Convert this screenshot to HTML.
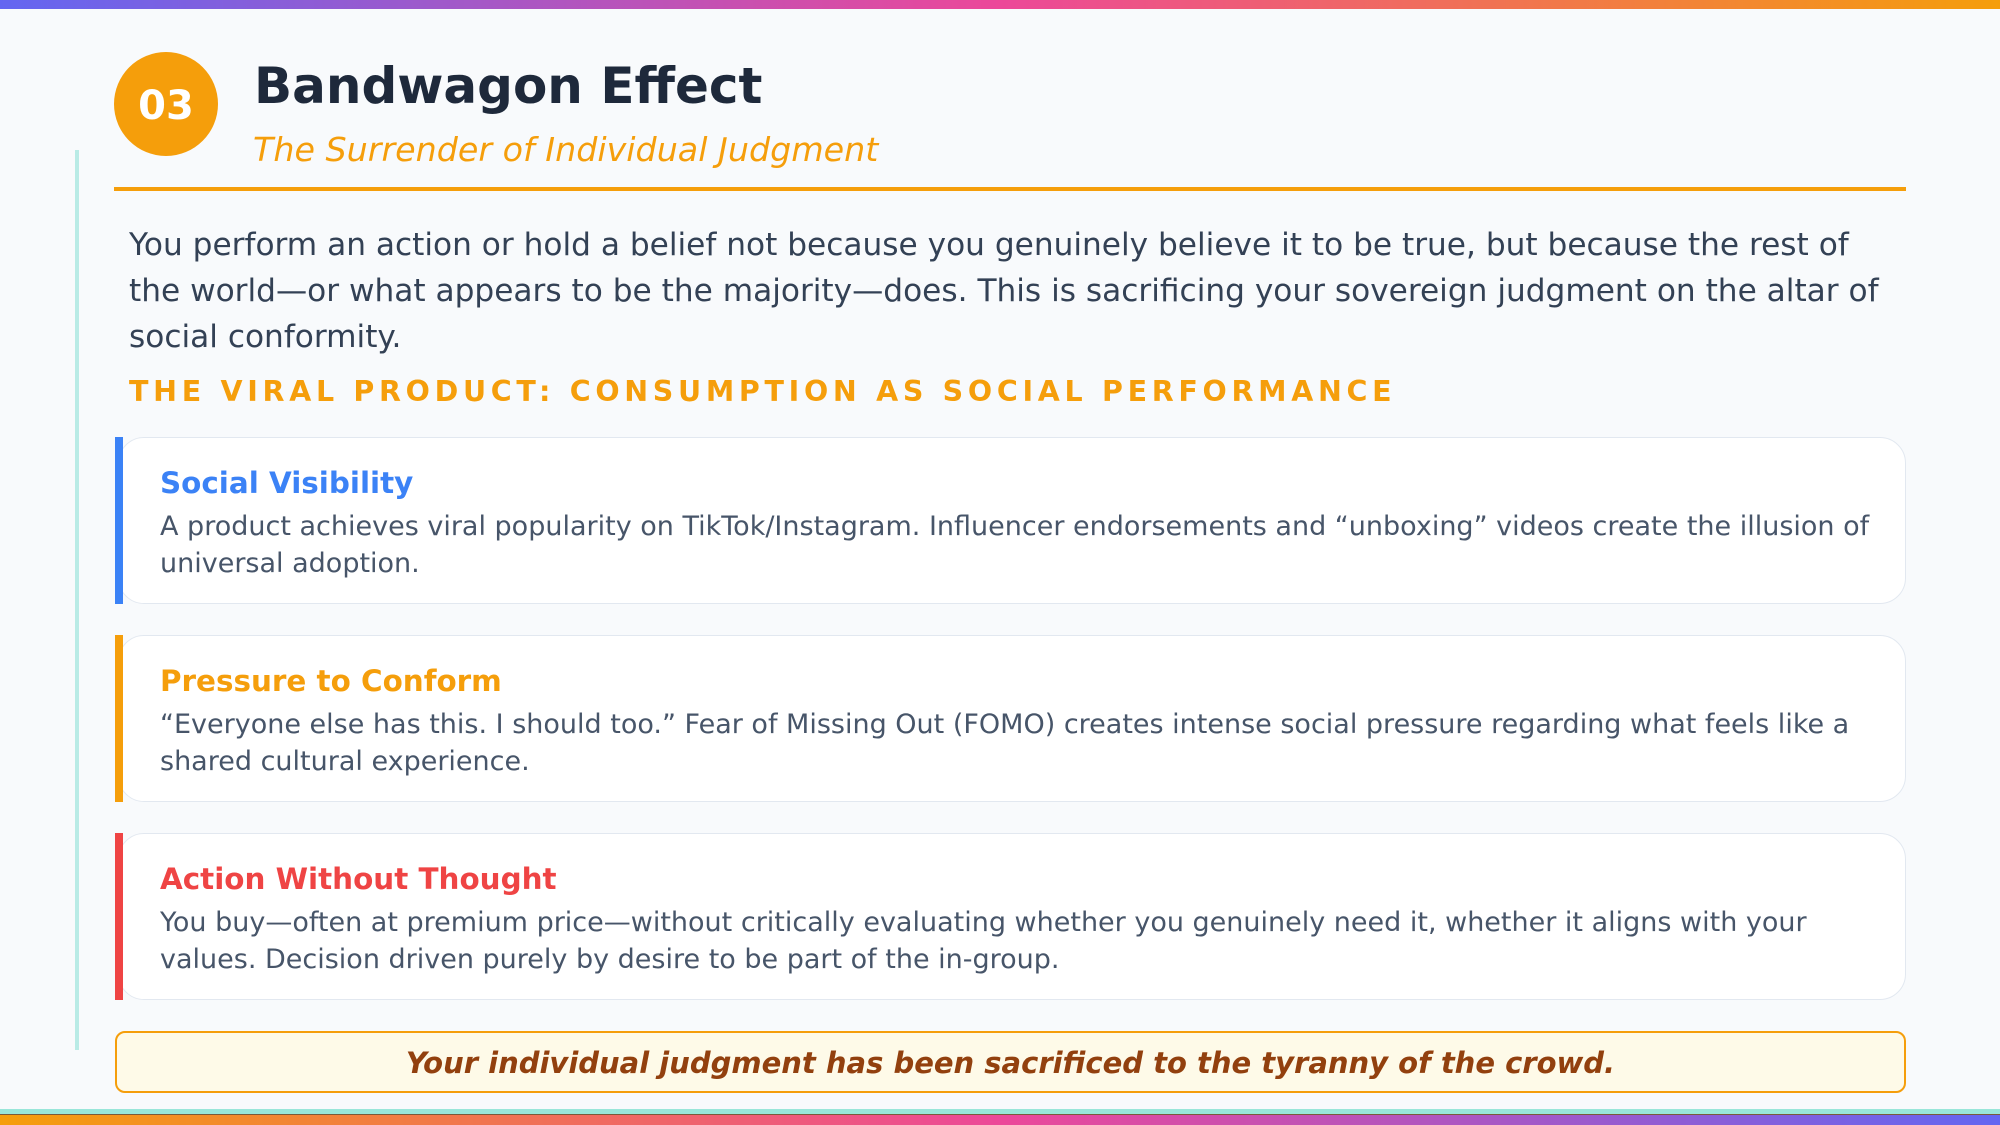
<!DOCTYPE html>
<html><head><meta charset="utf-8"><style>
*{margin:0;padding:0;box-sizing:border-box}
body{width:2000px;height:1125px;background:#f8fafc;font-family:"DejaVu Sans","Liberation Sans",sans-serif;position:relative;overflow:hidden}
.a{position:absolute}
.top{left:0;top:0;width:2000px;height:9px;background:linear-gradient(90deg,#6366f1,#ec4899 50%,#f59e0b)}
.bot{left:0;top:1115px;width:2000px;height:10px;background:linear-gradient(90deg,#f59e0b,#ec4899 50%,#6366f1)}
.teal{left:0;top:1109px;width:2000px;height:5px;background:#99e6d9}
.dk{left:0;top:1114px;width:2000px;height:2px;background:#7a5a3a}
.vl{left:75px;top:150px;width:4px;height:900px;background:#b9ebe6}
.circ{left:114px;top:52px;width:104px;height:104px;border-radius:50%;background:#f59e0b;color:#fff;font-weight:bold;font-size:40px;line-height:108px;text-align:center}
.t{left:254px;top:57px;font-size:50px;font-weight:bold;color:#1e293b;white-space:nowrap}
.st{left:253px;top:130px;font-size:33.3px;font-style:italic;color:#f59e0b;white-space:nowrap}
.hl{left:114px;top:187px;width:1792px;height:4px;background:#f59e0b}
.p{left:129px;top:222px;font-size:31.2px;line-height:46px;color:#334155;white-space:nowrap}
.h{left:129px;top:375px;font-size:28.5px;font-weight:bold;color:#f59e0b;letter-spacing:4.7px;white-space:nowrap}
.card{left:118px;width:1788px;height:167px;background:#fff;border:1px solid #e2e8f0;border-radius:26px;overflow:hidden}
.bar{left:115px;width:8px;height:167px}
.ct{position:absolute;left:41px;top:28px;font-size:29.4px;font-weight:bold;white-space:nowrap}
.cb{position:absolute;left:41px;top:70px;font-size:27px;line-height:37px;color:#475569;white-space:nowrap}
.q{left:115px;top:1031px;width:1791px;height:62px;background:#fefae8;border:2px solid #f59e0b;border-radius:10px;text-align:center;font-size:29px;font-weight:bold;font-style:italic;color:#92400e;line-height:60px}
</style></head><body>
<div class="a top"></div>
<div class="a vl"></div>
<div class="a circ">03</div>
<div class="a t">Bandwagon Effect</div>
<div class="a st">The Surrender of Individual Judgment</div>
<div class="a hl"></div>
<div class="a p">You perform an action or hold a belief not because you genuinely believe it to be true, but because the rest of<br>the world—or what appears to be the majority—does. This is sacrificing your sovereign judgment on the altar of<br>social conformity.</div>
<div class="a h">THE VIRAL PRODUCT: CONSUMPTION AS SOCIAL PERFORMANCE</div>
<div class="a card" style="top:437px"><div class="ct" style="color:#3b82f6">Social Visibility</div><div class="cb">A product achieves viral popularity on TikTok/Instagram. Influencer endorsements and “unboxing” videos create the illusion of<br>universal adoption.</div></div>
<div class="a bar" style="top:437px;background:#3b82f6"></div>
<div class="a card" style="top:635px"><div class="ct" style="color:#f59e0b">Pressure to Conform</div><div class="cb">“Everyone else has this. I should too.” Fear of Missing Out (FOMO) creates intense social pressure regarding what feels like a<br>shared cultural experience.</div></div>
<div class="a bar" style="top:635px;background:#f59e0b"></div>
<div class="a card" style="top:833px"><div class="ct" style="color:#ef4444">Action Without Thought</div><div class="cb">You buy—often at premium price—without critically evaluating whether you genuinely need it, whether it aligns with your<br>values. Decision driven purely by desire to be part of the in-group.</div></div>
<div class="a bar" style="top:833px;background:#ef4444"></div>
<div class="a q">Your individual judgment has been sacrificed to the tyranny of the crowd.</div>
<div class="a teal"></div>
<div class="a dk"></div>
<div class="a bot"></div>
</body></html>
